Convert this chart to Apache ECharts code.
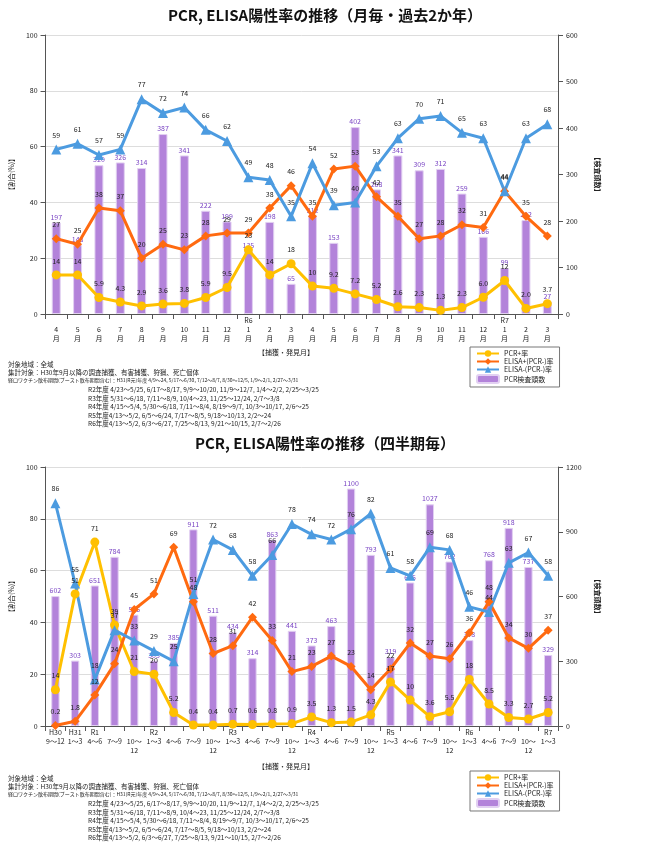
<!DOCTYPE html>
<html>
<head>
<meta charset="utf-8">
<script src="https://cdn.jsdelivr.net/npm/echarts@6/dist/echarts.min.js"></script>
<style>
  html, body { margin: 0; padding: 0; background: #fff; }
  #main { width: 650px; height: 845px; }
</style>
</head>
<body>
<div id="main"></div>
<script>
// 月毎（過去2か年）
var monthCats = ['\n4\n月','\n5\n月','\n6\n月','\n7\n月','\n8\n月','\n9\n月','\n10\n月','\n11\n月','\n12\n月','R6\n1\n月','\n2\n月','\n3\n月',
  '\n4\n月','\n5\n月','\n6\n月','\n7\n月','\n8\n月','\n9\n月','\n10\n月','\n11\n月','\n12\n月','R7\n1\n月','\n2\n月','\n3\n月'];
var monthCount = [197,148,320,326,314,387,341,222,199,135,198,65,212,153,402,268,341,309,312,259,166,99,202,27];
var monthPcr = [14,14,5.9,4.3,2.9,3.6,3.8,5.9,9.5,23,14,18,10,9.2,7.2,5.2,2.6,2.3,1.3,2.3,6.0,12,2.0,3.7];
var monthElisaP = [27,25,38,37,20,25,23,28,29,29,38,46,35,52,53,42,35,27,28,32,31,44,35,28];
var monthElisaN = [59,61,57,59,77,72,74,66,62,49,48,35,54,39,40,53,63,70,71,65,63,44,63,68];

// 四半期毎
var qCats = ['H30\n9～12','H31\n1～3','R1\n4～6','\n7～9','\n10～\n12','R2\n1～3','\n4～6','\n7～9','\n10～\n12','R3\n1～3','\n4～6','\n7～9','\n10～\n12',
  'R4\n1～3','\n4～6','\n7～9','\n10～\n12','R5\n1～3','\n4～6','\n7～9','\n10～\n12','R6\n1～3','\n4～6','\n7～9','\n10～\n12','R7\n1～3'];
var qCount = [602,303,651,784,516,303,385,911,511,434,314,863,441,373,463,1100,793,319,665,1027,762,398,768,918,737,329];
var qPcr = [14,51,71,39,21,20,5.2,0.4,0.4,0.7,0.6,0.8,0.9,3.5,1.3,1.5,4.3,17,10,3.6,5.5,18,8.5,3.3,2.7,5.2];
var qElisaP = [0.2,1.8,12,24,45,51,69,48,28,31,42,33,21,23,27,23,14,22,32,27,26,36,48,34,30,37];
var qElisaN = [86,55,18,37,33,29,25,51,72,68,58,66,78,74,72,76,82,61,58,69,68,46,44,63,67,58];

var notes = [
  '対象地域：全域',
  '集計対象：H30年9月以降の調査捕獲、有害捕獲、狩猟、死亡個体',
  '経口ワクチン散布期間(ブースト散布期間含む)：H31(R元)年度 4/9～24, 5/17～6/30, 7/12～8/7, 8/30～12/5, 1/9～2/1, 2/27～3/31'
];
var notesSub = [
  'R2年度 4/23～5/25, 6/17～8/17, 9/9～10/20, 11/9～12/7, 1/4～2/2, 2/25～3/25',
  'R3年度 5/31～6/18, 7/11～8/9, 10/4～23, 11/25～12/24, 2/7～3/8',
  'R4年度 4/15～5/4, 5/30～6/18, 7/11～8/4, 8/19～9/7, 10/3～10/17, 2/6～25',
  'R5年度4/13～5/2, 6/5～6/24, 7/17～8/5, 9/18～10/13, 2/2～24',
  'R6年度4/13～5/2, 6/3～6/27, 7/25～8/13, 9/21～10/15, 2/7～2/26'
];

var FONT = '"Noto Sans CJK JP", sans-serif';
var names = ['PCR+率', 'ELISA+(PCR-)率', 'ELISA-(PCR-)率', 'PCR検査頭数'];
var cYellow = '#ffc000', cOrange = '#ff6a10', cBlue = '#4c9be0', cPurple = '#b383da';

var chart = echarts.init(document.getElementById('main'));

function rateFmt(p) {
  return p.value < 10 ? p.value.toFixed(1) : String(Math.round(p.value));
}

function lineSeries(name, data, color, symbol, idx) {
  return {
    name: name, type: 'line', data: data,
    xAxisIndex: idx, yAxisIndex: idx * 2,
    symbol: symbol, symbolSize: symbol === 'triangle' ? 10 : 9,
    lineStyle: { width: 3, color: color },
    itemStyle: { color: color },
    label: { show: true, position: 'top', fontSize: 7, color: '#222', distance: 6, fontFamily: FONT, formatter: rateFmt },
    z: 3
  };
}

function barSeries(data, idx) {
  return {
    name: names[3], type: 'bar', data: data,
    xAxisIndex: idx, yAxisIndex: idx * 2 + 1,
    barWidth: '42%',
    itemStyle: { color: cPurple, borderColor: '#e2d0f2', borderWidth: 1 },
    label: { show: true, position: 'top', fontSize: 7, color: '#7a45c4', distance: 2, fontFamily: FONT },
    z: 1
  };
}

function xAx(cats, idx) {
  return {
    type: 'category', data: cats, gridIndex: idx,
    axisLine: { lineStyle: { color: '#555' } },
    axisTick: { show: true, interval: 0, lineStyle: { color: '#555' } },
    axisLabel: { interval: 0, fontSize: 7, color: '#222', lineHeight: 9, margin: 2, fontFamily: FONT }
  };
}

function yAxes(idx, rmax, rint) {
  return [{
    type: 'value', gridIndex: idx, min: 0, max: 100, interval: 20,
    name: '【割合(%)】', nameLocation: 'middle', nameGap: 22, nameRotate: 90,
    nameTextStyle: { fontSize: 7, color: '#222', fontFamily: FONT },
    axisLine: { show: true, lineStyle: { color: '#555' } },
    axisTick: { show: true },
    axisLabel: { fontSize: 7, color: '#222' },
    splitLine: { lineStyle: { color: '#ddd' } }
  }, {
    type: 'value', gridIndex: idx, min: 0, max: rmax, interval: rint, position: 'right',
    name: '【検査頭数】', nameLocation: 'middle', nameGap: 36, nameRotate: -90,
    nameTextStyle: { fontSize: 7, color: '#222', fontWeight: 'bold', fontFamily: FONT },
    axisLine: { show: true, lineStyle: { color: '#555' } },
    axisTick: { show: true },
    axisLabel: { fontSize: 7, color: '#222', formatter: function(v) { return String(v); } },
    splitLine: { show: false }
  }];
}

function legendAt(top) {
  return {
    orient: 'vertical', left: 470, top: top, data: names,
    itemWidth: 22, itemHeight: 8, itemGap: 1,
    padding: [3, 6], borderColor: '#777', borderWidth: 1,
    textStyle: { fontSize: 7, color: '#222', fontFamily: FONT }
  };
}

function noteTexts(top) {
  var els = [];
  notes.forEach(function(t, i) {
    els.push({ type: 'text', left: 8, top: top + i * 8.5,
      style: { text: t, fontSize: i == 2 ? 5 : 6.5, fill: '#222', fontFamily: FONT } });
  });
  notesSub.forEach(function(t, i) {
    els.push({ type: 'text', left: 88, top: top + 25.5 + i * 8.5,
      style: { text: t, fontSize: 6.5, fill: '#222', fontFamily: FONT } });
  });
  return els;
}

var graphics = [
  { type: 'text', left: 'center', top: 8, style: { text: 'PCR, ELISA陽性率の推移（月毎・過去2か年）', fontSize: 15, fontWeight: 'bold', fill: '#111', fontFamily: FONT } },
  { type: 'text', left: 'center', top: 436, style: { text: 'PCR, ELISA陽性率の推移（四半期毎）', fontSize: 15, fontWeight: 'bold', fill: '#111', fontFamily: FONT } },
  { type: 'text', left: 258, top: 349, style: { text: '【捕獲・発見月】', fontSize: 7, fill: '#222', fontFamily: FONT } },
  { type: 'text', left: 258, top: 763, style: { text: '【捕獲・発見月】', fontSize: 7, fill: '#222', fontFamily: FONT } }
].concat(noteTexts(361)).concat(noteTexts(775));

var option = {
  animation: false,
  textStyle: { fontFamily: FONT },
  grid: [
    { left: 32, right: 92, top: 35, height: 279 },
    { left: 32, right: 92, top: 467, height: 259 }
  ],
  legend: [legendAt(347), legendAt(771)],
  xAxis: [xAx(monthCats, 0), xAx(qCats, 1)],
  yAxis: yAxes(0, 600, 100).concat(yAxes(1, 1200, 300)),
  graphic: graphics,
  series: [
    barSeries(monthCount, 0),
    lineSeries(names[0], monthPcr, cYellow, 'circle', 0),
    lineSeries(names[1], monthElisaP, cOrange, 'diamond', 0),
    lineSeries(names[2], monthElisaN, cBlue, 'triangle', 0),
    barSeries(qCount, 1),
    lineSeries(names[0], qPcr, cYellow, 'circle', 1),
    lineSeries(names[1], qElisaP, cOrange, 'diamond', 1),
    lineSeries(names[2], qElisaN, cBlue, 'triangle', 1)
  ]
};
chart.setOption(option);
</script>
</body>
</html>
